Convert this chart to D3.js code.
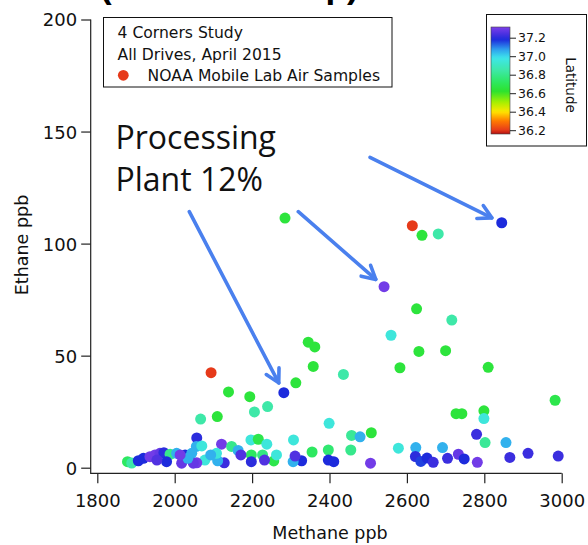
<!DOCTYPE html>
<html>
<head>
<meta charset="utf-8">
<script src="https://cdn.jsdelivr.net/npm/d3@7"></script>
<style>
  html, body { margin: 0; padding: 0; background: #fff; }
  svg { display: block; }
</style>
</head>
<body>
<svg id="chart" width="588" height="545"></svg>
<script>
// Methane vs ethane air samples, coloured by latitude
const methane = [
  2285, 2614, 2639, 2681, 2845, 2541, 2625, 2716, 2559, 2631,
  2700, 2582, 2436, 2345, 2362, 2358, 2313, 2282, 2094, 2139,
  2194, 2240, 2206, 2810, 2983, 2727, 2742, 2799, 2799, 2780,
  2802, 2856, 2733, 2748, 2782, 2866, 2913, 2991, 2399, 2457,
  2479, 2508, 2455, 2397, 2355, 2578, 2623, 2692, 2622, 2636,
  2652, 2668, 2705, 2506, 2397, 2411, 2328, 2067, 2110, 2057,
  2121, 2056, 2070, 2197, 2216, 2238, 2147, 2164, 2307, 2198,
  2227, 2256, 2263, 2198, 2232, 2171, 2128, 2111, 2078, 2057,
  2306, 2311, 1878, 1889, 1906, 1919, 1936, 1949, 1962, 1972,
  1988, 1979, 2005, 2027, 2018, 2044, 2048, 2034, 2108, 2014,
  1954, 2093
];
const ethane = [
  111.4, 108.0, 103.7, 104.3, 109.3, 80.8, 70.9, 65.9, 59.1, 51.9,
  52.2, 44.6, 41.6, 56.0, 53.9, 45.2, 37.9, 33.5, 42.4, 33.8,
  31.7, 27.3, 24.9, 44.8, 30.1, 24.1, 24.1, 25.4, 21.9, 14.9,
  11.2, 11.2, 6.0, 3.9, 2.4, 4.6, 6.4, 5.2, 19.8, 14.4,
  13.8, 15.6, 7.9, 7.9, 7.0, 8.7, 9.0, 9.0, 5.0, 2.8,
  4.3, 2.4, 4.2, 2.0, 3.4, 2.7, 3.1, 21.7, 22.8, 13.3,
  10.5, 9.5, 9.7, 12.4, 12.7, 10.5, 9.5, 7.7, 12.4, 5.7,
  5.7, 3.0, 5.7, 2.7, 3.4, 5.7, 2.2, 3.1, 3.4, 2.2,
  2.7, 5.2, 2.7, 2.1, 3.1, 4.2, 4.9, 5.7, 6.4, 6.7,
  6.0, 2.7, 6.4, 5.7, 2.0, 6.4, 2.0, 4.2, 6.4, 5.7,
  3.4, 5.7
];
const latitude = [
  36.65, 36.20, 36.65, 36.85, 37.18, 37.30, 36.65, 36.85, 36.95, 36.65,
  36.65, 36.65, 36.85, 36.65, 36.65, 36.65, 36.65, 37.18, 36.20, 36.65,
  36.65, 36.85, 36.85, 36.65, 36.68, 36.65, 36.65, 36.65, 36.95, 37.22,
  36.82, 37.05, 37.28, 37.18, 37.30, 37.22, 37.22, 37.22, 36.95, 36.82,
  37.05, 36.65, 36.80, 36.75, 36.72, 36.95, 37.05, 37.05, 37.20, 37.16,
  37.18, 37.22, 37.22, 37.30, 37.18, 37.18, 37.18, 36.85, 36.65, 37.20,
  37.30, 37.05, 36.95, 36.95, 36.68, 36.95, 36.80, 37.05, 36.95, 36.72,
  36.78, 36.68, 36.95, 37.20, 37.25, 37.25, 37.22, 37.05, 36.95, 37.30,
  37.05, 37.25, 36.72, 36.85, 37.18, 37.18, 37.30, 37.30, 37.28, 37.20,
  36.80, 37.18, 37.05, 37.18, 37.28, 37.05, 37.28, 37.05, 36.95, 37.30,
  37.25, 37.05
];

const xTicks = [1800, 2000, 2200, 2400, 2600, 2800, 3000];
const yTicks = [0, 50, 100, 150, 200];
const latTicks = [36.2, 36.4, 36.6, 36.8, 37.0, 37.2];

const legendLines = ["4 Corners Study", "All Drives, April 2015", "NOAA Mobile Lab Air Samples"];
const noteLines = ["Processing", "Plant 12%"];
// points the arrows call out (methane, ethane)
const arrowTargets = [[2282, 33.5], [2541, 80.8], [2845, 109.3]];

// rainbow colour table for latitude
const latStops = [36.16, 36.2, 36.3, 36.4, 36.5, 36.62, 36.72, 36.85, 36.98, 37.07, 37.18, 37.24, 37.32];
const latColors = ["#b01010", "#e63a1a", "#ff7a00", "#ffe600", "#a8f000", "#2de22d", "#2de860",
                   "#3ee8a8", "#3ee6ea", "#2fa2ee", "#1d2bdc", "#4a30e0", "#8040ea"];
const color = d3.scaleLinear().domain(latStops).range(latColors).interpolate(d3.interpolateRgb).clamp(true);

const svg = d3.select("#chart");
const font = "DejaVu Sans, Verdana, sans-serif";

const x = d3.scaleLinear().domain([1800, 3000]).range([97.3, 561.7]);
const y = d3.scaleLinear().domain([0, 200]).range([467.7, 19.5]);
const axisX = 90.7, axisY = 473.3;

// slide heading, running off the top edge
svg.append("text")
  .attr("x", 100).attr("y", -2)
  .attr("font-family", "Liberation Sans, Arial, sans-serif")
  .attr("font-weight", "bold").attr("font-size", 35)
  .attr("fill", "#000")
  .text("(Data Close-up)");

// axes
const gx = svg.append("g").attr("transform", `translate(0,${axisY})`)
  .call(d3.axisBottom(x).tickValues(xTicks).tickSize(10).tickPadding(11).tickFormat(d3.format("d")));
const gy = svg.append("g").attr("transform", `translate(${axisX},0)`)
  .call(d3.axisLeft(y).tickValues(yTicks).tickSize(9.5).tickPadding(4).tickFormat(d3.format("d")));
[gx, gy].forEach(g => {
  g.select(".domain").remove();
  g.selectAll("line").attr("stroke", "#222").attr("stroke-width", 1.2);
  g.selectAll("text").attr("font-family", font).attr("font-size", 18).attr("fill", "#111");
});
gy.selectAll("text").attr("dy", "0.36em");
svg.append("path")
  .attr("d", `M${axisX},${y(200)}V${axisY}H${x(3000)}`)
  .attr("fill", "none").attr("stroke", "#222").attr("stroke-width", 1.2);

// axis titles
svg.append("text")
  .attr("x", 330).attr("y", 539)
  .attr("text-anchor", "middle")
  .attr("font-family", font).attr("font-size", 17.5).attr("fill", "#111")
  .text("Methane ppb");
svg.append("text")
  .attr("transform", "translate(27.5,245) rotate(-90)")
  .attr("text-anchor", "middle")
  .attr("font-family", font).attr("font-size", 17.5).attr("fill", "#111")
  .text("Ethane ppb");

// sample points
const pts = d3.range(methane.length).map(i => ({ m: methane[i], e: ethane[i], lat: latitude[i] }));
svg.append("g").selectAll("circle").data(pts).join("circle")
  .attr("cx", d => x(d.m))
  .attr("cy", d => y(d.e))
  .attr("r", 5.5)
  .attr("fill", d => color(d.lat));

// legend box
const lg = svg.append("g");
lg.append("rect").attr("x", 103.5).attr("y", 17.5).attr("width", 288.5).attr("height", 69.5)
  .attr("fill", "#fff").attr("stroke", "#111").attr("stroke-width", 1);
const lgBase = [37.7, 59.5, 80.5];
legendLines.forEach((t, i) => {
  lg.append("text")
    .attr("x", i === 2 ? 147.5 : 117.5).attr("y", lgBase[i])
    .attr("font-family", font).attr("font-size", 15.6).attr("fill", "#111")
    .text(t);
});
lg.append("circle").attr("cx", 123.3).attr("cy", 75.3).attr("r", 5.4).attr("fill", color(36.2));

// colour bar
const cb = svg.append("g");
const latY = d3.scaleLinear().domain([36.2, 37.2]).range([130.2, 37.7]);
const grad = svg.append("defs").append("linearGradient")
  .attr("id", "latGrad").attr("x1", 0).attr("y1", 1).attr("x2", 0).attr("y2", 0);
const barLo = latY.invert(134), barHi = latY.invert(27);
d3.range(0, 1.0001, 0.02).forEach(t => {
  grad.append("stop").attr("offset", t).attr("stop-color", color(barLo + t * (barHi - barLo)));
});
cb.append("rect").attr("x", 486.5).attr("y", 14.5).attr("width", 100).attr("height", 131.5)
  .attr("fill", "#fff").attr("stroke", "#111").attr("stroke-width", 1);
cb.append("rect").attr("x", 491).attr("y", 27).attr("width", 19).attr("height", 107)
  .attr("fill", "url(#latGrad)").attr("stroke", "#444").attr("stroke-width", 0.6);
const cbAxis = cb.append("g").attr("transform", "translate(510,0)")
  .call(d3.axisRight(latY).tickValues(latTicks).tickSize(6).tickPadding(2).tickFormat(d3.format(".1f")));
cbAxis.select(".domain").remove();
cbAxis.selectAll("line").attr("stroke", "#222");
cbAxis.selectAll("text").attr("font-family", font).attr("font-size", 12.5).attr("fill", "#111");
cb.append("text")
  .attr("transform", "translate(566,85) rotate(90)")
  .attr("text-anchor", "middle")
  .attr("font-family", font).attr("font-size", 13.5).attr("fill", "#111")
  .text("Latitude");

// call-out arrows
const arrowStarts = [[189.3, 211.7], [298.3, 211.7], [370, 157.3]];
const arrowColor = "#4a80ee";
const ag = svg.append("g");
arrowTargets.forEach((tg, i) => {
  const [sx, sy] = arrowStarts[i];
  const tx = x(tg[0]), ty = y(tg[1]);
  const dx = tx - sx, dy = ty - sy, len = Math.hypot(dx, dy);
  const ux = dx / len, uy = dy / len;
  const ex = tx - ux * 11, ey = ty - uy * 11;
  ag.append("line").attr("x1", sx).attr("y1", sy).attr("x2", ex).attr("y2", ey)
    .attr("stroke", arrowColor).attr("stroke-width", 3.6).attr("stroke-linecap", "round");
  const a = Math.atan2(uy, ux), arm = 15, spread = 0.5;
  const p1 = [ex - arm * Math.cos(a - spread), ey - arm * Math.sin(a - spread)];
  const p2 = [ex - arm * Math.cos(a + spread), ey - arm * Math.sin(a + spread)];
  ag.append("path")
    .attr("d", `M${p1[0]},${p1[1]}L${ex},${ey}L${p2[0]},${p2[1]}`)
    .attr("fill", "none").attr("stroke", arrowColor).attr("stroke-width", 3.6)
    .attr("stroke-linecap", "round").attr("stroke-linejoin", "round");
});

// note text
noteLines.forEach((t, i) => {
  svg.append("text")
    .attr("x", 115.5).attr("y", i === 0 ? 149.3 : 190.7)
    .attr("font-family", "Open Sans, Noto Sans, sans-serif").attr("font-size", 32).attr("fill", "#111")
    .text(t);
});
</script>
</body>
</html>
